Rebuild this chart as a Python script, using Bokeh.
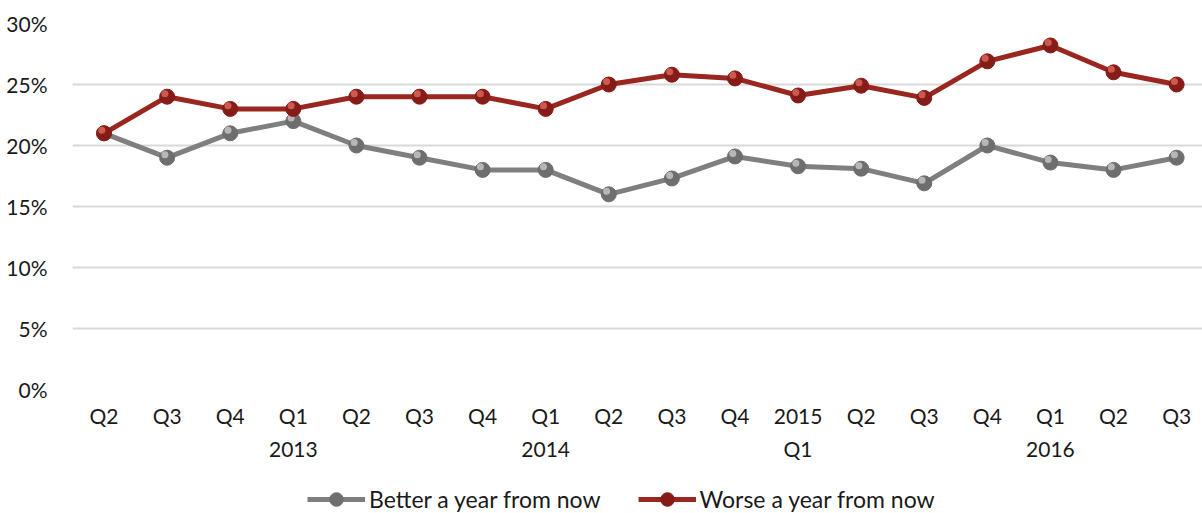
from bokeh.plotting import figure
from bokeh.layouts import column
from bokeh.models import (ColumnDataSource, Range1d, FixedTicker, NumeralTickFormatter,
                          Legend, LegendItem)
from bokeh.transform import dodge
from bokeh.embed import file_html
from bokeh.resources import INLINE

quarters = ["Q2", "Q3", "Q4", "Q1\n2013", "Q2", "Q3", "Q4", "Q1\n2014", "Q2", "Q3",
            "Q4", "2015\nQ1", "Q2", "Q3", "Q4", "Q1\n2016", "Q2", "Q3"]
better = [21.0, 19.0, 21.0, 22.0, 20.0, 19.0, 18.0, 18.0, 16.0, 17.3,
          19.1, 18.3, 18.1, 16.9, 20.0, 18.6, 18.0, 19.0]
worse = [21.0, 24.0, 23.0, 23.0, 24.0, 24.0, 24.0, 23.0, 25.0, 25.8,
         25.5, 24.1, 24.9, 23.9, 26.9, 28.2, 26.0, 25.0]
y_ticks = [0, 0.05, 0.10, 0.15, 0.20, 0.25, 0.30]
series_names = ["Better a year from now", "Worse a year from now"]

FONT = "Lato"
GRAY_LINE, GRAY_DARK, GRAY_LIGHT = "#7f7f7f", "#6e6e6e", "#c4c4c4"
RED_LINE, RED_DARK, RED_LIGHT = "#9a2620", "#861c17", "#d9655c"

idx = list(range(len(quarters)))
src = ColumnDataSource(dict(x=idx,
                            better=[v / 100 for v in better],
                            worse=[v / 100 for v in worse]))

p = figure(width=1202, height=463, output_backend="svg", toolbar_location=None,
           x_range=Range1d(-0.5, 17.41), y_range=Range1d(0, 0.30),
           min_border_left=72, min_border_right=0, min_border_top=23,
           min_border_bottom=73, outline_line_color=None)

p.xaxis.ticker = FixedTicker(ticks=idx)
p.xaxis.major_label_overrides = {i: q for i, q in enumerate(quarters)}
p.yaxis.ticker = FixedTicker(ticks=y_ticks)
p.yaxis.formatter = NumeralTickFormatter(format="0%")
for ax in (p.xaxis, p.yaxis):
    ax.axis_line_color = None
    ax.major_tick_line_color = None
    ax.minor_tick_line_color = None
    ax.major_label_text_font = FONT
    ax.major_label_text_font_size = "21px"
    ax.major_label_text_color = "#1a1a1a"
p.xaxis.major_label_standoff = 7
p.xaxis.major_label_text_line_height = 1.33
p.yaxis.major_label_standoff = 19
p.xgrid.grid_line_color = None
p.ygrid.ticker = FixedTicker(ticks=y_ticks)
p.ygrid.grid_line_color = "#d9d9d9"
p.ygrid.grid_line_width = 2

def series(col, line_c, dark, light):
    p.line("x", col, source=src, line_color=line_c, line_width=5)
    p.scatter("x", col, source=src, size=15, fill_color=dark,
              line_color=dark, line_width=1)
    p.scatter(dodge("x", -0.035, range=p.x_range), dodge(col, 0.0025, range=p.y_range),
              source=src, size=7, fill_color=light, line_color=None, fill_alpha=0.85)

series("better", GRAY_LINE, GRAY_DARK, GRAY_LIGHT)
series("worse", RED_LINE, RED_DARK, RED_LIGHT)

# legend strip (its renderers use the same data, kept outside the visible range)
lf = figure(width=1202, height=50, output_backend="svg", toolbar_location=None,
            x_range=Range1d(0, 1), y_range=Range1d(100, 101),
            min_border_left=0, min_border_right=0, min_border_top=0,
            min_border_bottom=0, outline_line_color=None)
lf.axis.visible = False
lf.grid.visible = False
items = []
for name, col, lc, dk in zip(series_names, ["better", "worse"],
                             [GRAY_LINE, RED_LINE], [GRAY_DARK, RED_DARK]):
    r1 = lf.line("x", col, source=src, line_color=lc, line_width=5)
    r2 = lf.scatter("x", col, source=src, fill_color=dk, line_color=dk)
    items.append(LegendItem(label=name, renderers=[r1, r2]))

legend = Legend(items=items, orientation="horizontal", location=(235, -3),
                label_text_font=FONT, label_text_font_size="23px",
                label_text_color="#1a1a1a", glyph_width=58, glyph_height=34,
                spacing=37, padding=0, margin=0, label_standoff=4,
                background_fill_alpha=0, border_line_color=None)
lf.add_layout(legend, "center")

layout = column(p, lf, spacing=0)
open("out.html", "w").write(file_html(layout, INLINE))
